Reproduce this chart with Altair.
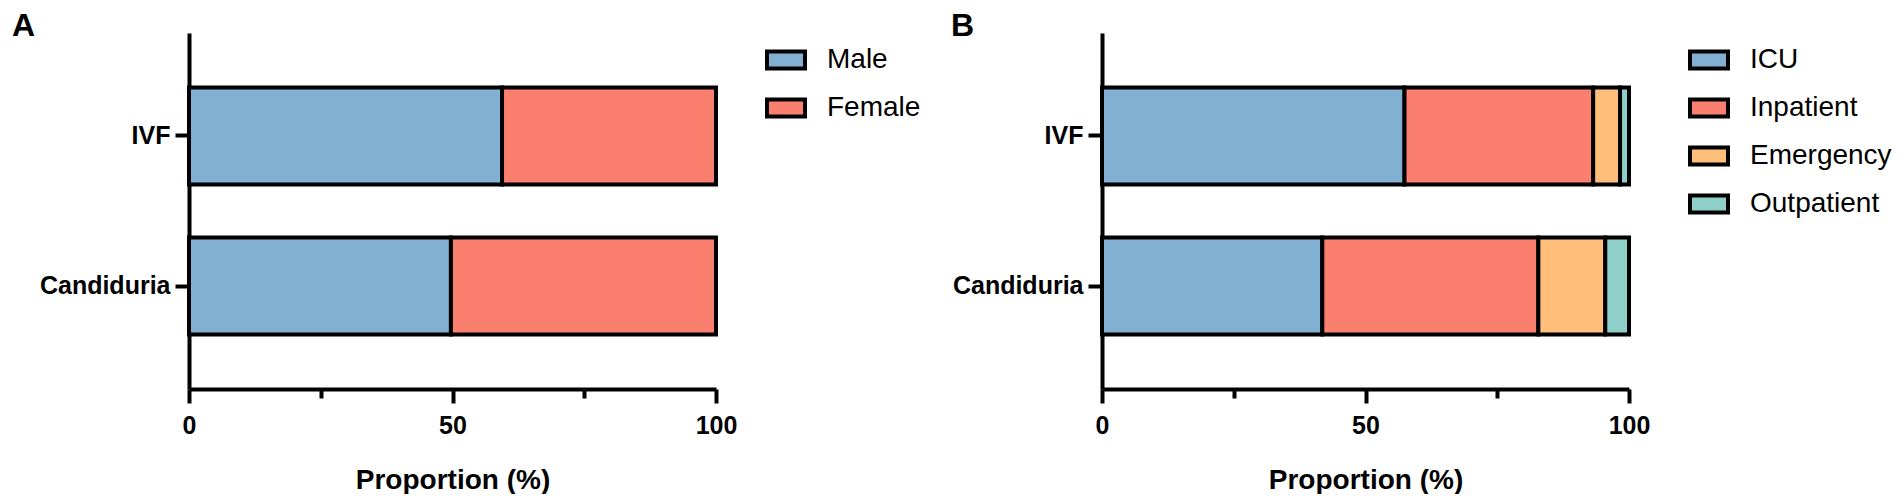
import altair as alt
import pandas as pd

# ---- data ----
categories = ["IVF", "Candiduria"]

sex_groups = ["Male", "Female"]
male_pct = [59.4, 49.7]
female_pct = [40.6, 50.3]

ward_groups = ["ICU", "Inpatient", "Emergency", "Outpatient"]
icu_pct = [57.4, 41.8]
inpatient_pct = [35.8, 41.0]
emergency_pct = [5.1, 12.7]
outpatient_pct = [1.7, 4.5]

sex_colors = ["#82B0D2", "#FA7F6F"]
ward_colors = ["#82B0D2", "#FA7F6F", "#FFBE7A", "#8ECFC9"]

x_ticks = [0, 50, 100]
x_minor_ticks = [25, 75]

FONT = "Liberation Sans"
RECT = "M-1,-0.447H1V0.447H-1Z"


def make_df(groups, series):
    rows = []
    for gi, (g, vals) in enumerate(zip(groups, series)):
        for c, v in zip(categories, vals):
            rows.append({"Group": c, "Series": g, "Order": gi, "Value": v})
    return pd.DataFrame(rows)


def panel(df, groups, colors, label, title_dx, legend_x):
    x_scale = alt.Scale(domain=[0, 100], nice=False)
    y_enc = alt.Y(
        "Group:N",
        sort=categories,
        scale=alt.Scale(paddingInner=0.353, paddingOuter=0.363),
        axis=alt.Axis(
            title=None, grid=False,
            domainColor="black", domainWidth=4,
            tickColor="black", tickWidth=4, tickSize=14,
            labelFont=FONT, labelFontSize=25, labelFontWeight="bold",
            labelColor="black", labelPadding=5,
        ),
    )
    bars = alt.Chart(df).mark_bar(stroke="black", strokeWidth=4, opacity=1).encode(
        x=alt.X(
            "Value:Q", stack="zero", scale=x_scale,
            axis=alt.Axis(
                values=x_ticks, orient="bottom", grid=False,
                title="Proportion (%)", titleFont=FONT, titleFontSize=28,
                titleFontWeight="bold", titleColor="black", titlePadding=28,
                domainColor="black", domainWidth=4,
                tickColor="black", tickWidth=4, tickSize=14,
                labelFont=FONT, labelFontSize=25, labelFontWeight="bold",
                labelColor="black", labelPadding=10, labelFlush=False,
            ),
        ),
        y=y_enc,
        color=alt.Color(
            "Series:N",
            scale=alt.Scale(domain=groups, range=colors),
            legend=alt.Legend(
                title=None, orient="none", legendX=legend_x, legendY=6,
                symbolType=RECT, symbolSize=1444,
                symbolStrokeColor="black", symbolStrokeWidth=4, symbolOpacity=1,
                labelFont=FONT, labelFontSize=28, labelColor="black",
                labelOffset=20, rowPadding=10,
            ),
        ),
        order=alt.Order("Order:Q", sort="ascending"),
    )
    minor = alt.Chart(df).mark_bar(opacity=0).encode(
        x=alt.X(
            "Value:Q", stack="zero", scale=x_scale,
            axis=alt.Axis(
                values=x_minor_ticks, orient="bottom", labels=False, domain=False,
                title=None, grid=False, tickSize=9, tickWidth=4, tickColor="black",
            ),
        ),
        y=alt.Y("Group:N", sort=categories),
    )
    return (
        alt.layer(bars, minor)
        .resolve_axis(x="independent")
        .properties(
            width=527, height=356,
            title=alt.TitleParams(
                label, anchor="start", frame="group", dx=title_dx, dy=31,
                fontSize=32, fontWeight="bold", font=FONT, color="black",
                baseline="alphabetic", offset=-4,
            ),
        )
    )


df_a = make_df(sex_groups, [male_pct, female_pct])
df_b = make_df(ward_groups, [icu_pct, inpatient_pct, emergency_pct, outpatient_pct])

chart_a = panel(df_a, sex_groups, sex_colors, "A", -177, 576)
chart_b = panel(df_b, ward_groups, ward_colors, "B", -151, 586)

chart = (
    alt.hconcat(chart_a, chart_b, spacing=30)
    .resolve_scale(color="independent")
    .resolve_legend(color="independent")
    .properties(padding={"left": 4, "top": 2, "right": 0, "bottom": 0})
    .configure_view(stroke=None)
)

chart.save("out.html", embed_options={"renderer": "svg", "actions": False})
